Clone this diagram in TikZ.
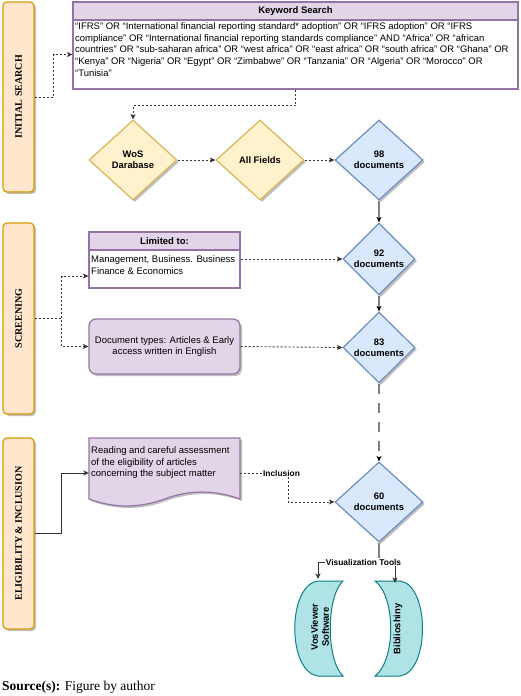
\documentclass[tikz,border=0pt]{standalone}
\usepackage{fontspec}
\setmainfont{Liberation Serif}
\setsansfont{Liberation Sans}
\usetikzlibrary{arrows.meta,shapes.geometric,shadows}
\definecolor{orF}{HTML}{FFE6CC}
\definecolor{orD}{HTML}{D79B00}
\definecolor{puF}{HTML}{E1D5E7}
\definecolor{puD}{HTML}{9673A6}
\definecolor{yeF}{HTML}{FFF2CC}
\definecolor{yeD}{HTML}{D6B656}
\definecolor{blF}{HTML}{DAE8FC}
\definecolor{blD}{HTML}{6C8EBF}
\definecolor{teF}{HTML}{B0E3E6}
\definecolor{teD}{HTML}{0E8088}
\definecolor{lineG}{HTML}{333333}
\definecolor{midG}{HTML}{808080}
\begin{document}
\begin{tikzpicture}[x=1pt,y=-1pt,
 shad/.style={drop shadow={shadow xshift=2pt,shadow yshift=-2pt,opacity=0.25,fill=black}},
 sidebox/.style={draw=orD,fill=orF,line width=1.2pt,rounded corners=4pt,minimum width=31pt,minimum height=190pt,inner sep=0pt,font=\rmfamily\bfseries\fontsize{10}{12}\selectfont,shad},
 dia/.style={diamond,inner sep=0pt,minimum width=88pt,minimum height=80pt,line width=1.2pt,font=\sffamily\bfseries\fontsize{9.4}{11}\selectfont,align=center,shad},
 hdr/.style={draw=puD,fill=puF,line width=1.2pt,inner sep=0pt,font=\sffamily\bfseries\fontsize{9.5}{11}\selectfont},
 bodybox/.style={draw=puD,fill=white,line width=1.2pt,inner sep=0pt},
 txt/.style={inner sep=0pt,font=\sffamily\fontsize{9.5}{11.7}\selectfont},
 lbl/.style={fill=white,inner sep=1pt,font=\sffamily\bfseries\fontsize{8.4}{10}\selectfont},
 dotarrow/.style={draw=lineG,line width=0.9pt,dash pattern=on 2pt off 2pt,-{Stealth[length=5.5pt,width=5pt,inset=1.5pt]}},
 grayarrow/.style={draw=midG,line width=1.2pt,-{Stealth[length=5.5pt,width=5pt,inset=1.5pt,color=black]}},
 solidarrow/.style={draw=lineG,line width=0.9pt,-{Stealth[length=5.5pt,width=5pt,inset=1.5pt]}},
 shapefill/.style={draw=teD,fill=teF,line width=1pt}
]
\useasboundingbox (0,0) rectangle (520,696);
\fill[white] (0,0) rectangle (520,696);

% side boxes
\node[sidebox] (init) at (18.5,97) {\rotatebox{90}{INITIAL SEARCH}};
\node[sidebox,minimum height=191pt] (screen) at (18.5,318.5) {\rotatebox{90}{SCREENING}};
\node[sidebox,minimum height=191pt] (elig) at (18.5,533.5) {\rotatebox{90}{ELIGIBILITY \& INCLUSION}};

% keyword search
\node[hdr,minimum width=445pt,minimum height=18pt] (kwhead) at (295.5,11) {Keyword Search};
\node[bodybox,minimum width=445pt,minimum height=69pt] (kwbody) at (295.5,54.5) {};
\node[txt,anchor=north west,align=left] (kwtext) at (75,22.5) {“IFRS” OR “International financial reporting standard* adoption” OR “IFRS adoption” OR “IFRS\\compliance” OR “International financial reporting standards compliance” AND “Africa” OR “african\\countries” OR “sub-saharan africa” OR “west africa” OR “east africa” OR “south africa” OR “Ghana” OR\\“Kenya” OR “Nigeria” OR “Egypt” OR “Zimbabwe” OR “Tanzania” OR “Algeria” OR “Morocco” OR\\“Tunisia”};

% diamonds
\node[dia,draw=yeD,fill=yeF] (wos) at (133,160) {WoS\\Darabase};
\node[dia,draw=yeD,fill=yeF] (allf) at (260,160) {All Fields};
\node[dia,draw=blD,fill=blF] (d98) at (379,160) {98\\documents};
\node[dia,draw=blD,fill=blF,minimum width=72pt,minimum height=72pt] (d92) at (379,259) {92\\documents};
\node[dia,draw=blD,fill=blF,minimum width=72pt,minimum height=71pt] (d83) at (379,347.5) {83\\documents};
\node[dia,draw=blD,fill=blF] (d60) at (379,502) {60\\documents};

% limited to
\node[hdr,minimum width=151pt,minimum height=18pt] (limhead) at (164.5,241) {Limited to:};
\node[bodybox,minimum width=151pt,minimum height=38pt] (limbody) at (164.5,269) {};
\node[txt,anchor=north west,align=left] (limtext) at (91,255.5) {Management, Business. Business\\Finance \& Economics};

% document types
\node[draw=puD,fill=puF,line width=1.2pt,rounded corners=7pt,minimum width=151pt,minimum height=55pt,align=center,txt,shad] (doct) at (164.5,346.5) {Document types: Articles \& Early\\access written in English};

% document shape
\path[draw=puD,fill=puF,line width=1.2pt,shad] (89,438) -- (240,438) -- (240,499)
  .. controls (214.7,489.7) and (189.5,489.7) .. (164.5,499)
  .. controls (139.5,508.3) and (114,508.3) .. (89,499) -- cycle;
\node[minimum width=151pt,minimum height=70pt,inner sep=0pt] (docbox) at (164.5,473) {};
\node[txt,anchor=north west,align=left] (doctext) at (91,446.5) {Reading and careful assessment\\of the eligibility of articles\\concerning the subject matter};

% tool shapes
\path[shapefill] (318,581) -- (343,581) .. controls (326,597) and (326,660) .. (343,676)
  -- (318,676) .. controls (287,672) and (287,585) .. cycle;
\path[shapefill] (375,581) -- (400,581) .. controls (430,585) and (430,672) .. (400,676)
  -- (375,676) .. controls (396,660) and (396,597) .. cycle;
\node[rotate=90,inner sep=0pt,align=center,font=\sffamily\bfseries\fontsize{9.4}{11}\selectfont] (vos) at (320,627) {VosViewer\\Software};
\node[rotate=90,inner sep=0pt,font=\sffamily\bfseries\fontsize{9.4}{11}\selectfont] (bib) at (398,629) {Biblioshiny};
\coordinate (vostop) at (318,579);
\coordinate (bibtop) at (395,583);

% connectors
\draw[dotarrow] (init.east) -- ++(19,0) |- (kwbody.west);
\draw[dotarrow] (kwbody.south) -- ++(0,16) -| (wos.north);
\draw[dotarrow] (wos.east) -- (allf.west);
\draw[dotarrow] (allf.east) -- (d98.west);
\draw[grayarrow] (d98.south) -- (d92.north);
\draw[grayarrow] (d92.south) -- (d83.north);
\draw[grayarrow,dash pattern=on 10pt off 9pt] (d83.south) -- (d60.north);
\draw[dotarrow] (screen.east) -- ++(27,0) |- ([yshift=-7pt]limbody.west);
\draw[dotarrow] (screen.east) -- ++(27,0) |- (doct.west);
\draw[dotarrow] (limbody.east |- d92.west) -- (d92.west);
\draw[dotarrow] (doct.east) -- (d83.west);
\draw[solidarrow] (elig.east) -- ++(27,0) |- (docbox.west);
\draw[dotarrow] (docbox.east) -- ++(48,0) |- (d60.west);
\node[lbl] (incl) at (281.5,473) {Inclusion};
\draw[draw=midG,line width=1.2pt] (d60.south) -- ++(0,20) coordinate (vj);
\draw[solidarrow] (vj) -| (vostop);
\draw[solidarrow] (vj) -| (bibtop);
\node[lbl] (vis) at (363.5,562) {Visualization Tools};

% source
\node[anchor=west,inner sep=0pt,font=\rmfamily\fontsize{13.5}{16}\selectfont] (src) at (2,687) {\textbf{Source(s):} Figure by author};
\end{tikzpicture}
\end{document}
